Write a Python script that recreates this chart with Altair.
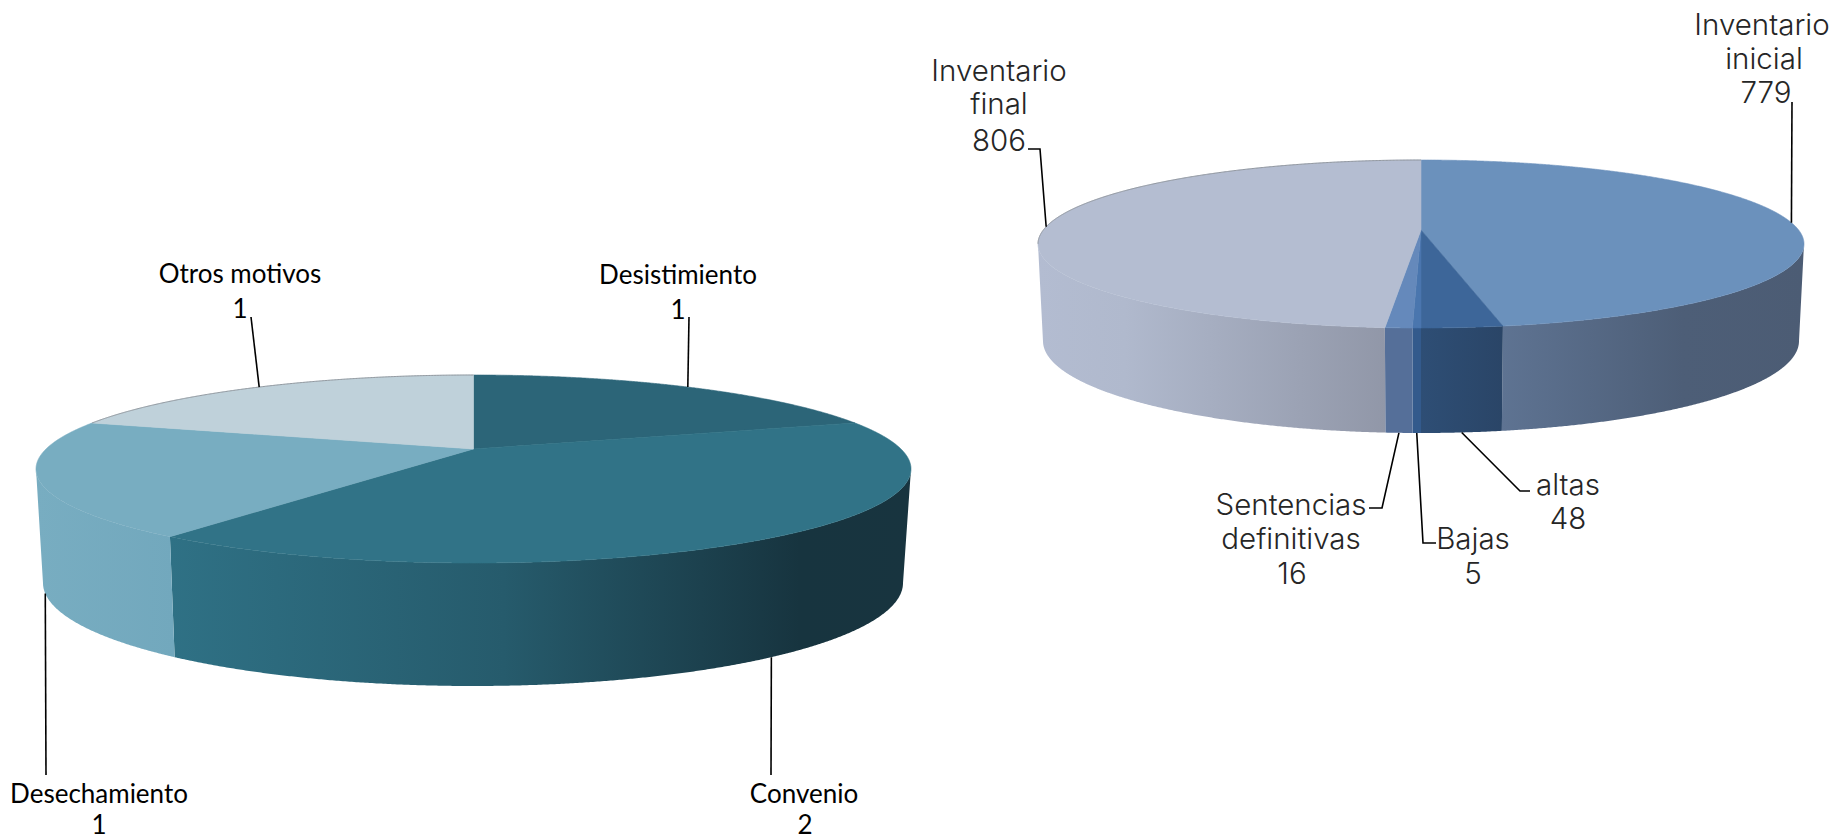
import numpy as np
import pandas as pd
import altair as alt

# ---------- data ----------
left_names = ["Desistimiento", "Convenio", "Desechamiento", "Otros motivos"]
left_values = [1, 2, 1, 1]
right_names = ["Inventario inicial", "altas", "Bajas", "Sentencias definitivas", "Inventario final"]
right_values = [779, 48, 5, 16, 806]

# ---------- styles ----------
left_top = ["#2c6578", "#317387", "#78adc1", "#bfd1da"]
left_wall = [
    ["#2c6578"],
    [(0, "#2f7185"), (0.45, "#265b6c"), (0.85, "#17343f"), (1, "#18343f")],
    [(0, "#78adc1"), (1, "#72a8bd")],
    ["#bfd1da"],
]
left_outline = [False, False, False, True]
right_top = ["#6b91bc", "#3d6699", "#4a76ae", "#6589bb", "#b4bdd1"]
right_wall = [
    [(0, "#5e7392"), (0.6, "#4d5e77"), (1, "#4c5c74")],
    [(0, "#2e4e75"), (1, "#2a4567")],
    ["#335a8c"],
    ["#556f99"],
    [(0, "#b3bcd1"), (0.25, "#b0b9cd"), (1, "#9197a8")],
]
right_outline = [False, False, False, False, True]

# Pie geometry on the page: top ellipse, lower ellipse, perspective shift of the apex
left_geo = dict(cx=473.5, cy=469, a=437.5, b=94, lcx=473, lcy=583, la=430, lb=103, d=0.213)
right_geo = dict(cx=1421, cy=244, a=383, b=84, lcx=1421, lcy=341, la=378, lb=92, d=0.167)

# Label layout: text lines (x, y, text), leader elbows between label and slice
left_text = [
    (678, 274, "Desistimiento"), (678, 309, "1"),
    (804, 793, "Convenio"), (805, 824, "2"),
    (99, 793, "Desechamiento"), (99, 824, "1"),
    (240, 273, "Otros motivos"), (240, 308, "1"),
]
left_leaders = [[(689, 317)], [(771, 775)], [(46, 775)], [(251, 317)]]
left_anchor_wall = [False, True, True, False]

right_text = [
    (1762, 24, "Inventario"), (1764, 58, "inicial"), (1766, 92, "779"),
    (1568, 484, "altas"), (1568, 518, "48"),
    (1473, 538, "Bajas"), (1473, 573, "5"),
    (1291, 504, "Sentencias"), (1291, 538, "definitivas"), (1292, 573, "16"),
    (999, 70, "Inventario"), (999, 103, "final"), (999, 140, "806"),
]
right_leaders = [
    [(1792, 102)],
    [(1530, 491), (1520, 491)],
    [(1436, 543), (1423, 543)],
    [(1369, 508), (1382, 508)],
    [(1028, 149), (1040, 149)],
]
right_anchor_wall = [False, True, True, True, False]

W, H = 1825, 831
x_scale = alt.Scale(domain=[8, 8 + W], nice=False, zero=False)
y_scale = alt.Scale(domain=[8 + H, 8], nice=False, zero=False)
X = alt.X("x:Q", scale=x_scale, axis=None)
Y = alt.Y("y:Q", scale=y_scale, axis=None)


def unit(theta_deg, d):
    t = np.radians(np.asarray(theta_deg, dtype=float))
    sx, cy = np.sin(t), np.cos(t)
    den = 1 + d * cy
    return sx * np.sqrt(1 - d * d) / den, (cy + d) / den


def fill_of(stops):
    if len(stops) == 1:
        return stops[0]
    return alt.Gradient(
        gradient="linear", x1=0, x2=1, y1=0, y2=0,
        stops=[alt.GradientStop(offset=o, color=c) for o, c in stops],
    )


def polygon(xs, ys, fill):
    df = pd.DataFrame({"x": xs, "y": ys, "i": np.arange(len(xs))})
    return alt.Chart(df).mark_line(
        fill=fill_of(fill) if isinstance(fill, list) else fill,
        stroke=fill if isinstance(fill, str) else "transparent",
        strokeWidth=0.6 if isinstance(fill, str) else 0,
    ).encode(x=X, y=Y, order="i:Q")


def pie(values, geo, tops, walls, leaders, anchor_wall, outline):
    vals = np.array(values, dtype=float)
    edges = np.concatenate([[0], np.cumsum(vals) / vals.sum() * 360])
    d = geo["d"]
    wall_layers, top_layers, edge_layers, leader_rows = [], [], [], []
    for k in range(len(vals)):
        th = np.linspace(edges[k], edges[k + 1], max(12, int((edges[k + 1] - edges[k]) * 4)))
        u, v = unit(th, d)
        tx = geo["cx"] + geo["a"] * u
        ty = geo["cy"] - geo["b"] * v
        ax, ay = geo["cx"], geo["cy"] - geo["b"] * d
        top_layers.append(polygon(np.r_[ax, tx, ax], np.r_[ay, ty, ay], tops[k]))
        front = v <= 0
        if front.sum() > 1:
            bx = geo["lcx"] + geo["la"] * u[front]
            by = geo["lcy"] - geo["lb"] * v[front]
            xs = np.r_[tx[front], bx[::-1], tx[front][0]]
            ys = np.r_[ty[front], by[::-1], ty[front][0]]
            wall_layers.append(polygon(xs, ys, walls[k]))
        if outline[k]:
            back = v > 0
            edf = pd.DataFrame({"x": tx[back], "y": ty[back], "i": np.arange(back.sum())})
            edge_layers.append(
                alt.Chart(edf).mark_line(color="#8c9298", strokeWidth=0.9).encode(x=X, y=Y, order="i:Q")
            )
        um, vm = unit((edges[k] + edges[k + 1]) / 2, d)
        if anchor_wall[k]:
            p = (geo["lcx"] + geo["la"] * um, geo["lcy"] - geo["lb"] * vm)
        else:
            p = (geo["cx"] + geo["a"] * um, geo["cy"] - geo["b"] * vm)
        for j, (px, py) in enumerate(list(leaders[k]) + [p]):
            leader_rows.append({"k": k, "j": j, "x": px, "y": py})
    lead = alt.Chart(pd.DataFrame(leader_rows)).mark_line(color="#000000", strokeWidth=1.6).encode(
        x=X, y=Y, detail="k:N", order="j:Q"
    )
    return wall_layers + top_layers + edge_layers + [lead]


def texts(rows, font, size, color, weight):
    df = pd.DataFrame(rows, columns=["x", "y", "t"])
    return alt.Chart(df).mark_text(
        font=font, fontSize=size, color=color, fontWeight=weight,
        align="center", baseline="middle", dy=2,
    ).encode(x=X, y=Y, text="t:N")


layers = (
    pie(left_values, left_geo, left_top, left_wall, left_leaders, left_anchor_wall, left_outline)
    + pie(right_values, right_geo, right_top, right_wall, right_leaders, right_anchor_wall, right_outline)
    + [
        texts(left_text, "Lato", 26, "#000000", 400),
        texts(right_text, "Inter", 29.5, "#262626", 300),
    ]
)

chart = alt.layer(*layers).properties(
    width=W, height=H, padding=0, autosize=alt.AutoSizeParams(type="none"), background="#ffffff"
).configure_view(stroke=None)

chart.save("out.html", embed_options={"renderer": "svg", "actions": False})
